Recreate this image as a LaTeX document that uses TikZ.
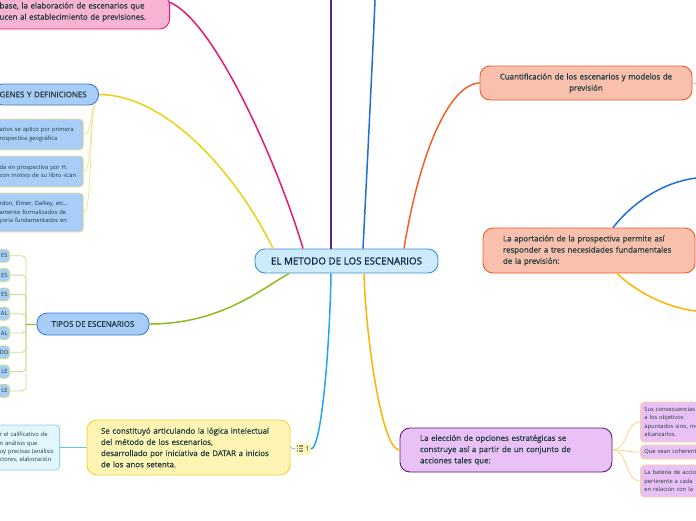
\documentclass[tikz,border=0pt]{standalone}
\usepackage{fontspec}
\setmainfont{Open Sans}
\newfontfamily\medium{Open Sans}[FakeBold=0.6]
\newfontfamily\heavy{Open Sans}[FakeBold=1.2]
\usetikzlibrary{calc}
\definecolor{txt}{HTML}{1D3B3C}
\definecolor{navy}{HTML}{12284A}
\definecolor{centrefill}{HTML}{CDEBFB}
\definecolor{centreline}{HTML}{3B8ED6}
\definecolor{pinkfill}{HTML}{F9B3D5}
\definecolor{pinkline}{HTML}{E5176B}
\definecolor{bluefill}{HTML}{A8CEF8}
\definecolor{blueline}{HTML}{3A7BD5}
\definecolor{yelfill}{HTML}{FEF5B4}
\definecolor{yelline}{HTML}{F3D22C}
\definecolor{cyanfill}{HTML}{E3F6FC}
\definecolor{cyanline}{HTML}{8BD3F0}
\definecolor{salfill}{HTML}{F9C0AD}
\definecolor{salline}{HTML}{F15A24}
\definecolor{lilfill}{HTML}{EAC1F7}
\definecolor{lilline}{HTML}{5E1A73}
\definecolor{lightyel}{HTML}{F2E58E}
\definecolor{lightgreen}{HTML}{C8DE8E}
\definecolor{lightorange}{HTML}{FBD38A}
\definecolor{cpink}{HTML}{E8186D}
\definecolor{cyellow}{HTML}{E8D313}
\definecolor{cgreen}{HTML}{8CBD1A}
\definecolor{ccyan}{HTML}{22A7EC}
\definecolor{camber}{HTML}{FFB300}
\definecolor{cpurple}{HTML}{5C2689}
\definecolor{cblue}{HTML}{1F6FD6}
\definecolor{corange}{HTML}{F0612A}
\tikzset{
    topic/.style 2 args={fill=#1, draw=#2, line width=0.9pt, rounded corners=10pt,
        text=txt, font=\medium\fontsize{7.9}{11.2}\selectfont, inner ysep=0pt},
    capstopic/.style 2 args={topic={#1}{#2}, font=\medium\fontsize{7.9}{9}\selectfont},
    leaf/.style 2 args={fill=#1, draw=#2, line width=0.8pt, rounded corners=4pt,
        text=txt, font=\fontsize{5.8}{8.4}\selectfont, inner ysep=0pt, align=left},
    link/.style={line width=1.5pt},
    twig/.style={line width=0.8pt}
}
\begin{document}
\begin{tikzpicture}[x=1pt,y=-1pt]
    \useasboundingbox (0,0) rectangle (696,520);
    \clip (0,0) rectangle (696,520);
    % Central topic
    \node[topic={centrefill}{centreline}, text=navy, font=\heavy\fontsize{9.8}{11}\selectfont,
        minimum width=183, minimum height=24, inner sep=0pt] (centre) at (346.5,261) {EL METODO DE LOS ESCENARIOS};
    % Left branches
    \node[topic={pinkfill}{pinkline}, anchor=east, text width=160, inner xsep=10pt,
        minimum height=34, align=left] (prevision) at (170,12)
        {base, la elaboración de escenarios que\\ucen al establecimiento de previsiones.};
    \node[capstopic={bluefill}{blueline}, anchor=east, text width=92, inner xsep=7pt,
        minimum height=21, align=left] (origenes) at (99,94.5) {\mbox{GENES Y DEFINICIONES}};
    \node[leaf={bluefill}{lightyel}, anchor=east, text width=78, inner xsep=6pt, minimum height=31] (origa) at (84,134.5)
        {arios se aplico por primera\\rospectiva geográfica};
    \node[leaf={bluefill}{lightyel}, anchor=east, text width=78, inner xsep=6pt, minimum height=31] (origb) at (84,171.5)
        {da en prospectiva por H.\\con motivo de su libro «L'an};
    \node[leaf={bluefill}{lightyel}, anchor=east, text width=78, inner xsep=6pt, minimum height=39] (origc) at (84,212.5)
        {rdon, Elmer, Dalkey, etc.,\\amente formalizados de\\yoría fundamentados en\\[3pt]};
    \node[capstopic={bluefill}{blueline}, minimum width=112, minimum height=22, align=center] (tipos) at (93,324) {TIPOS DE ESCENARIOS};
    \coordinate (tipjunc) at (26,324);
    \foreach \n/\t [count=\i] in {ES,ES,ES,AL,AL,DO,LE,LE}{
        \node[leaf={bluefill}{lightgreen}, anchor=east, text width=8, inner xsep=2pt, minimum height=13, align=right]
            (tipo\i) at (10,{236.5+19.3*\i}) {\n};
        \draw[twig, lightgreen, rounded corners=4pt] (tipjunc) |- (tipo\i.east);
    }
    \node[topic={yelfill}{yelline}, text width=175, inner xsep=14pt, minimum height=55, align=left] (datar) at (188.5,447.5)
        {Se constituyó articulando la lógica intelectual\\del método de los escenarios,\\desarrollado por iniciativa de DATAR a inicios\\de los anos setenta.};
    \node[leaf={cyanfill}{cyanline}, anchor=east, text width=55, inner xsep=5pt, minimum height=45] (calificativo) at (60,447.5)
        {r el calificativo de\\n análisis que\\uy precisas (análisis\\ctores, elaboración\\[4pt]};
    \node[fill=yelfill, rounded corners=1pt, inner xsep=1.5pt, inner ysep=1pt, text=black!75,
        font=\fontsize{7}{7}\selectfont, minimum height=11] (nota) at (303,449) {\hspace{8.5pt}1};
    \foreach \k in {0,1,2}{
        \fill[gray!90] ($(nota.west)+(1.5,{-3.7+2.5*\k})$) rectangle ++(1.3,1.3);
        \fill[gray!90] ($(nota.west)+(3.7,{-3.7+2.5*\k})$) rectangle ++(4.3,1.3);
    }
    % Right branches
    \node[topic={salfill}{salline}, text width=185, minimum width=212, minimum height=34, align=center] (cuantif) at (586,83)
        {Cuantificación de los escenarios y modelos de\\previsión};
    \node[topic={salfill}{salline}, text width=172, inner xsep=20pt, minimum height=45, align=left] (aportacion) at (589,250.5)
        {La aportación de la prospectiva permite así\\responder a tres necesidades fundamentales\\de la previsión:};
    \node[topic={lilfill}{lilline}, text width=172, inner xsep=20pt, minimum height=44, align=left] (eleccion) at (506,450)
        {La elección de opciones estratégicas se\\construye así a partir de un conjunto de\\acciones tales que:};
    \node[leaf={lilfill}{lightorange}, anchor=west, text width=70, inner xsep=4pt, minimum height=40] (conseq) at (640,422)
        {Sus consecuencias s\\a los objetivos\\apuntados sino, me\\alcanzarlos.};
    \node[leaf={lilfill}{lightorange}, anchor=west, text width=70, inner xsep=4pt, minimum height=14] (coherent) at (640,452)
        {Que sean coherente};
    \node[leaf={lilfill}{lightorange}, anchor=west, text width=70, inner xsep=4pt, minimum height=32] (bateria) at (640,481)
        {La bateria de accio\\pertinente a cada\\en relación con la};
    % Free ends at the borders
    \coordinate (topp) at (331,0);
    \coordinate (topb) at (375,0);
    \coordinate (rightc) at (696,84);
    \coordinate (rightu) at (696,178);
    \coordinate (rightd) at (696,311);
    % Connectors
    \draw[link, cpink] ($(centre.north)+(-43.5,0)$) .. controls (280,170) and (215,20) .. ($(prevision.east)+(-1,-10)$);
    \draw[link, cyellow] ($(centre.north)+(-73.5,0)$) .. controls (240,180) and (170,95) .. (origenes.east);
    \draw[link, cpurple] ($(centre.north)+(-15.5,0)$) -- (topp);
    \draw[link, cblue] ($(centre.north)+(16.5,0)$) .. controls (368,150) and (373,50) .. (topb);
    \draw[link, corange] ($(centre.north)+(57.5,0)$) .. controls (420,150) and (450,84) .. (cuantif.west);
    \draw[link, cgreen] ($(centre.south)+(-57.5,0)$) .. controls (260,290) and (220,324) .. (tipos.east);
    \draw[link, ccyan] ($(centre.south)+(-15.5,0)$) .. controls (330,340) and (322,449) .. (nota.east);
    \draw[link, camber] ($(centre.south)+(17.5,0)$) .. controls (366,340) and (382,450) .. (eleccion.west);
    \draw[link, cblue] ($(aportacion.north)+(24,0)$) .. controls (635,200) and (665,182) .. (rightu);
    \draw[link, camber] ($(aportacion.south)+(28,0)$) .. controls (640,295) and (670,308) .. (rightd);
    \draw[twig, salline!50] (cuantif.east) -- (rightc);
    \draw[twig, ccyan!70] (nota.west) -- (datar.east);
    \draw[twig, ccyan!70] (datar.west) -- (calificativo.east);
    \draw[twig, cgreen] (tipos.west) -- (tipjunc);
    \foreach \c in {origa,origb,origc}{
        \draw[twig, lightyel] ($(origenes.south east)+(-4,-2)$) .. controls (90,110) and (92,0 |- \c.east) .. (\c.east);
    }
    \foreach \c in {conseq,coherent,bateria}{
        \draw[twig, lightorange] (eleccion.east) .. controls (628,450) and (625,0 |- \c.west) .. (\c.west);
    }
\end{tikzpicture}
\end{document}
